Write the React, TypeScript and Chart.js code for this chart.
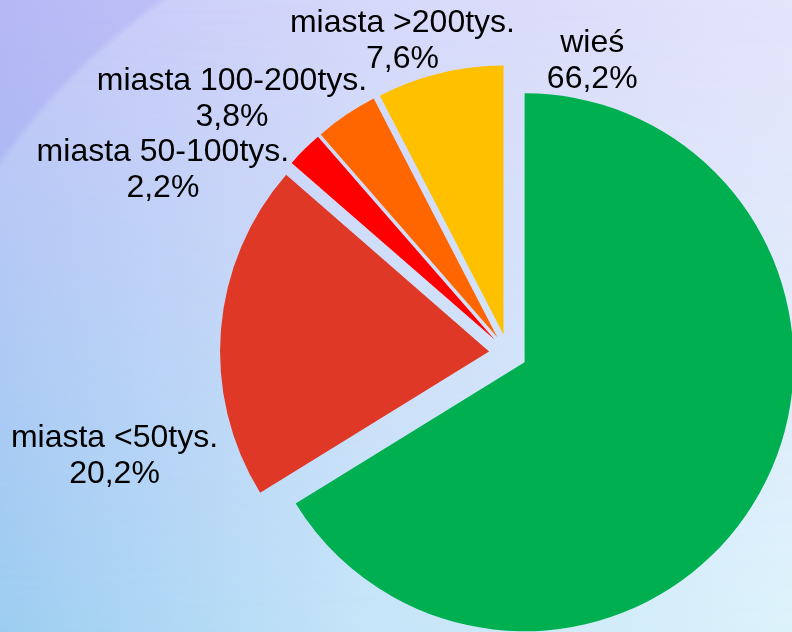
import React, { useEffect, useRef } from "react";
import { Chart, registerables } from "chart.js";

Chart.register(...registerables);

// ---- data ----
const categories = ["wieś", "miasta <50tys.", "miasta 50-100tys.", "miasta 100-200tys.", "miasta >200tys."];
const shares = [66.2, 20.2, 2.2, 3.8, 7.6];
const valueLabels = ["66,2%", "20,2%", "2,2%", "3,8%", "7,6%"];
const sliceColors = ["#00b050", "#df3826", "#ff0000", "#ff6600", "#ffc000"];

// ---- label layout: angle (deg, clockwise from 12 o'clock) and distance as multiple of the radius ----
const labelAngles = [16.6, 254.1, 296.7, 311.6, 340.8];
const labelDistances = [1.096, 1.521, 1.436, 1.372, 1.193];

const EXPLODE = 19;
const RADIUS = 269;
const FONT = '32px "Liberation Sans", Arial, sans-serif';
const LINE_GAP = 36;

const explodePlugin = {
  id: "explodeSlices",
  afterDatasetUpdate(chart: any, args: any) {
    const meta = chart.getDatasetMeta(args.index);
    meta.data.forEach((arc: any) => {
      const mid = (arc.startAngle + arc.endAngle) / 2;
      arc.x += Math.cos(mid) * EXPLODE;
      arc.y += Math.sin(mid) * EXPLODE;
    });
  },
};

const labelPlugin = {
  id: "outsideLabels",
  afterDatasetsDraw(chart: any) {
    const { ctx, chartArea } = chart;
    const meta = chart.getDatasetMeta(0);
    const r = meta.controller.outerRadius;
    const cx = (chartArea.left + chartArea.right) / 2;
    const cy = (chartArea.top + chartArea.bottom) / 2;
    ctx.save();
    ctx.font = FONT;
    ctx.fillStyle = "#000000";
    ctx.textAlign = "center";
    ctx.textBaseline = "alphabetic";
    categories.forEach((name, i) => {
      const a = (labelAngles[i] * Math.PI) / 180;
      const d = labelDistances[i] * r;
      const x = cx + Math.sin(a) * d;
      const y = cy - Math.cos(a) * d;
      ctx.fillText(name, x, y - LINE_GAP / 2);
      ctx.fillText(valueLabels[i], x, y + LINE_GAP / 2);
    });
    ctx.restore();
  },
};

export default function App() {
  const ref = useRef<HTMLCanvasElement | null>(null);

  useEffect(() => {
    if (!ref.current) return;
    const chart = new Chart(ref.current, {
      type: "pie",
      data: {
        labels: categories,
        datasets: [
          {
            data: shares,
            backgroundColor: sliceColors,
            borderWidth: 0,
            radius: RADIUS,
            clip: false,
          } as any,
        ],
      },
      options: {
        responsive: false,
        animation: false,
        layout: { padding: { left: 224, top: 74, right: 0, bottom: 0 } },
        plugins: {
          legend: { display: false },
          tooltip: { enabled: false },
        },
      } as any,
      plugins: [explodePlugin, labelPlugin],
    });
    return () => chart.destroy();
  }, []);

  const maskGrad = "linear-gradient(to bottom, transparent 0%, black 100%)";

  return (
    <div
      style={{
        position: "fixed",
        left: 0,
        top: 0,
        width: 792,
        height: 632,
        overflow: "hidden",
        background: "linear-gradient(to right, #c4c6f8 0%, #d6d8fa 45%, #e4e4fb 100%)",
      }}
    >
      <div
        style={{
          position: "absolute",
          inset: 0,
          background: "linear-gradient(to right, #9ccdf1 0%, #c4e4f8 45%, #dcf2fb 100%)",
          WebkitMaskImage: maskGrad,
          maskImage: maskGrad,
        } as any}
      />
      <div
        style={{
          position: "absolute",
          inset: 0,
          background:
            "radial-gradient(circle at 540px 540px, rgba(0,0,0,0) 0px, rgba(0,0,0,0) 655px, rgba(120,120,235,0.18) 662px)",
        }}
      />
      <canvas
        ref={ref}
        width={792}
        height={632}
        style={{ position: "absolute", left: 0, top: 0, display: "block" }}
      />
    </div>
  );
}
